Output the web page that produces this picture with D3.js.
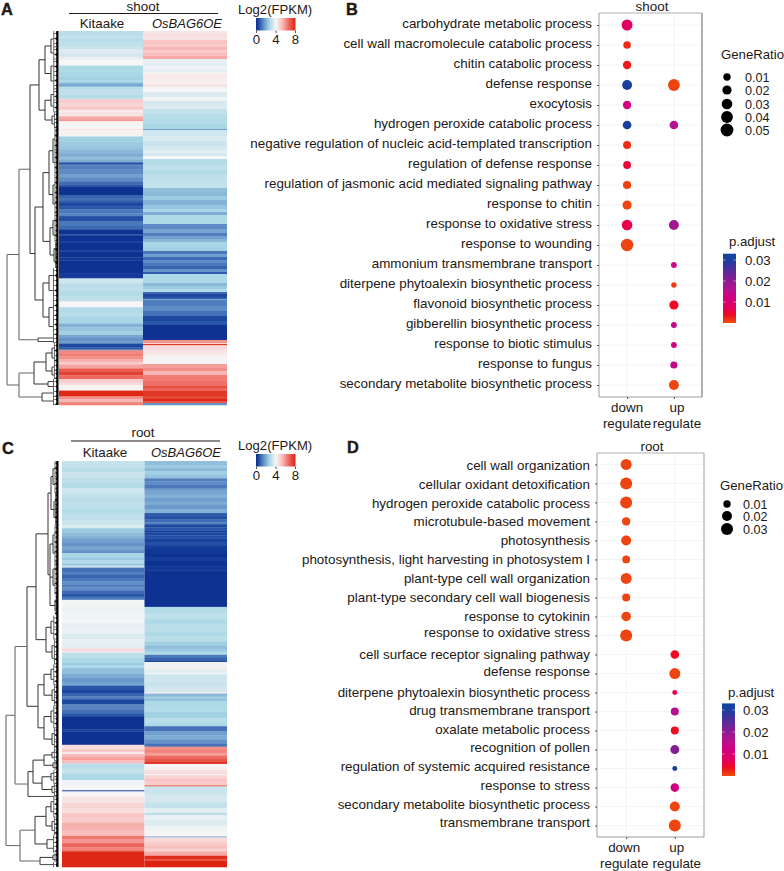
<!DOCTYPE html>
<html><head><meta charset="utf-8">
<script src="https://cdn.jsdelivr.net/npm/d3@7"></script>
<style>html,body{margin:0;padding:0;background:#fff}svg{display:block}text{font-family:"Liberation Sans",Arial,sans-serif;fill:#231815}</style>
</head><body><svg id="c" width="784" height="871"></svg>
<script>
// ---------- heatmap values: [log2 FPKM, number of rows] ----------
const shootKitaake=[[3,5],[3.2,3],[2.9,3],[3.1,3],[3,2],[3.3,3],[3.6,4],[3.5,4],[3.8,3],[4,6],[2.8,6],[2.7,6],[2.6,3],[2.8,3],[2.1,2],[1.9,2],[3,4],[3.1,4],[2.9,4],[3.1,1],[5,4],[4.8,4],[5.2,3],[4.3,3],[4.6,2],[4.4,2],[5.6,3],[5.9,2],[4.1,4],[4,4],[4.5,1],[4.1,7],[2.6,5],[2.5,5],[2.4,4],[2.2,4],[2,3],[2.3,3],[2,3],[0.6,2],[0.9,1],[1.3,4],[1.5,5],[1.8,4],[1.5,4],[1,3],[0.7,2],[0.1,9],[0.9,3],[1.1,3],[0.8,2],[0.5,4],[0.7,3],[1.2,4],[1.4,3],[0.6,5],[1.2,5],[1,4],[0.1,5],[0.5,1],[0.1,6],[0.4,2],[0.1,8],[0.3,1],[0.1,6],[0.2,3],[0.1,14],[0.25,5],[3.4,5],[3,4],[3.1,4],[2.9,5],[3.1,6],[4,6],[2.9,5],[3,5],[2.7,7],[2.1,4],[2.4,4],[2.6,4],[1.9,3],[1.6,3],[1.8,3],[0.5,4],[0.8,2],[1.3,1],[6.1,3],[6.3,3],[6,3],[5.5,3],[5.1,3],[5.7,4],[6.9,3],[7.4,4],[6.6,4],[5,3],[4.7,3],[4.1,6],[7.9,6],[6,3],[5.4,3],[6.2,3]];
const shootOE=[[4.4,3],[4.6,3],[4.5,3],[5.2,4],[5.1,3],[5.4,3],[5,3],[5.3,3],[5.6,3],[3.8,4],[3.7,3],[3.9,3],[3.8,3],[4.1,2],[4.3,5],[4.2,5],[4.4,3],[3.9,2],[4,3],[3.6,5],[3.9,4],[3.5,4],[3.6,4],[3.2,5],[3,5],[2.9,5],[2.7,5],[1.8,1],[3.4,6],[3.6,5],[3.3,5],[3.5,4],[3.7,3],[3.5,3],[4,3],[2.9,6],[3.1,5],[2.9,5],[3.1,6],[3.2,7],[2.3,4],[2.2,4],[2.5,4],[2.1,5],[2.4,4],[2.7,3],[2,3],[2.8,9],[1.5,5],[1.9,4],[1.3,3],[1.8,3],[2.2,3],[2.7,5],[2.6,4],[1.2,3],[1.8,3],[1,3],[1.5,3],[1.2,3],[0.9,3],[1.6,3],[0.8,2],[2.8,9],[2.2,3],[2.5,3],[2.9,3],[1,2],[0.5,3],[0.8,2],[2,1],[1.3,6],[1.5,5],[1.1,5],[0.5,5],[0.7,4],[0.1,15],[6,3],[4.8,1],[7.6,1],[5.2,1],[4.7,4],[4.4,4],[4.2,3],[4.05,7],[5.8,4],[6,3],[5.4,4],[6.3,6],[6.5,5],[7.1,2],[6.7,3],[7.6,5],[7.3,3],[7.9,2],[7,2],[1.6,2]];
const rootKitaake=[[3.2,6],[3,5],[3.3,5],[3.1,5],[2.9,5],[3.4,5],[3.2,4],[3,5],[3.1,6],[2.9,5],[3.1,6],[3.3,5],[3.6,3],[2.5,4],[2.3,3],[2.1,3],[1.8,4],[1.6,3],[1.9,4],[1.6,3],[2.7,4],[2.5,3],[2.9,3],[2.4,2],[3.3,2],[1.1,4],[1.3,3],[0.9,3],[1.2,3],[1.5,3],[1.3,3],[1.5,3],[1,3],[0.7,3],[1.2,3],[3.95,7],[3.85,6],[3.9,6],[4,3],[3.8,6],[3.85,5],[3.6,5],[3.8,5],[3.7,4],[4.7,3],[3.8,1],[3.1,5],[2.8,5],[2.5,2],[2.8,3],[2.3,5],[2,4],[1.7,5],[1.9,3],[0.7,4],[0.5,3],[0.9,3],[1.3,3],[0.5,5],[1.4,5],[1.1,4],[0.7,3],[0.1,12],[0.3,2],[0.1,13],[4.6,4],[5.1,3],[4.3,2],[5.4,3],[5.8,3],[5.3,3],[3,5],[3.2,5],[2.8,6],[3.9,5],[4,5],[0.1,1],[4.05,5],[4.4,6],[4.8,5],[4.6,5],[5.2,5],[5,4],[5.5,7],[5.3,6],[6.4,3],[5.9,4],[6.7,4],[6.2,3],[7,1],[7.9,15]];
const rootOE=[[2.3,4],[2.5,3],[2.2,3],[2.6,3],[2.4,4],[1.3,3],[1.5,3],[1.2,4],[1.7,2],[1.9,4],[2.1,3],[1.8,4],[2,3],[1.7,4],[2.1,4],[0.8,3],[0.6,3],[1,3],[1.3,2],[0.5,3],[0.7,3],[0.3,2],[0.5,3],[0.6,3],[0.4,4],[0.6,3],[0.3,4],[0.2,4],[0.1,3],[0.3,4],[0.1,5],[0.2,4],[0.1,36],[2.9,6],[3.1,6],[2.8,5],[3,7],[2.8,5],[3,5],[2.6,4],[2.3,3],[2.5,3],[2.8,3],[1.2,3],[0.9,3],[0.4,1],[3.9,5],[4.2,2],[3.7,4],[4,1],[3.4,7],[3.3,6],[3.5,5],[4.2,1],[2.2,3],[2.6,2],[2.3,2],[2.8,6],[2.9,5],[2.6,6],[3,4],[2.8,4],[1.1,5],[1.8,4],[2,4],[1.6,4],[1.1,3],[6,3],[6.2,3],[5.8,3],[6.6,3],[7,3],[7.6,2],[4,3],[4.2,3],[4.6,4],[4.2,1],[4.8,3],[5.2,4],[5,3],[7,1],[3.3,8],[3.5,8],[3.2,5],[3.7,5],[3,2],[3.8,5],[3.6,6],[3.9,5],[4,5],[2,1],[4.7,4],[5,4],[5.3,3],[4.9,3],[5.6,4],[7.8,3],[7,2],[8,6]];

// ---------- dendrograms: [merge height, ...children]; a number is a block of rows ----------
const shootTree=[51,[39,[28,[19,[13,[7,16,12],[7,14,16]],[13,[7,11,12],[6,8,8]]],[23,[15,[9,[5,22,25],[5,20,18]],[8,[5,15,14],[4,13,13]]],[15,[9,15,15],[9,19,19]]]],[20,4,3]],[39,[24,[12,[6,10,10],[6,8,8]],[10,5,5]],[16,8,8]]];
const rootTree=[52,[43,[31,[22,[10,[7,[5,16,17],[4,18,16]],[8,[5,20,18],[5,15,19],[3,12,10]]],[12,[7,12,13],[6,13,13]]],[20,[14,[7,10,11],[6,11,11]],[14,[7,11,12],[6,12,11]]]],[30,[25,[14,[6,5,6],[5,5,5]],[16,[7,7,7],[6,6,7]]],1]],[38,[23,[12,[7,10,11],[6,9,10]],[11,9,9]],[18,[5,5,5],5]]];

// ---------- dot plots ----------
const shootTerms=["carbohydrate metabolic process","cell wall macromolecule catabolic process","chitin catabolic process","defense response","exocytosis","hydrogen peroxide catabolic process","negative regulation of nucleic acid-templated transcription","regulation of defense response","regulation of jasmonic acid mediated signaling pathway","response to chitin","response to oxidative stress","response to wounding","ammonium transmembrane transport","diterpene phytoalexin biosynthetic process","flavonoid biosynthetic process","gibberellin biosynthetic process","response to biotic stimulus","response to fungus","secondary metabolite biosynthetic process"];
const groups=["down","up"];
const shootDown=[[0,.033,.008],[1,.011,.002],[2,.015,.003],[3,.025,.03],[4,.015,.012],[5,.017,.03],[6,.013,.002],[7,.012,.005],[8,.014,.0008],[9,.02,.0005],[10,.03,.006],[11,.047,.0005]];
const shootUp=[[3,.04,.0005],[5,.017,.016],[10,.025,.018],[12,.004,.014],[13,.003,.001],[14,.02,.004],[15,.004,.014],[16,.004,.013],[17,.009,.014],[18,.025,.0005]];
const rootTerms=["cell wall organization","cellular oxidant detoxification","hydrogen peroxide catabolic process","microtubule-based movement","photosynthesis","photosynthesis, light harvesting in photosystem I","plant-type cell wall  organization","plant-type secondary cell wall biogenesis","response to cytokinin","response to oxidative stress","cell surface receptor signaling pathway","defense response","diterpene phytoalexin biosynthetic process","drug transmembrane transport","oxalate metabolic process","recognition of pollen","regulation of systemic acquired resistance","response to stress","secondary metabolite biosynthetic process","transmembrane transport"];
const rootDown=[[0,.0247,.0005],[1,.03,.0005],[2,.03,.0005],[3,.0127,.0005],[4,.02,.0005],[5,.0113,.0005],[6,.0247,.0005],[7,.0122,.0005],[8,.018,.0005],[9,.03,.0005]];
const rootUp=[[10,.0142,.004],[11,.0247,.0005],[12,.0038,.006],[13,.0122,.016],[14,.0122,.004],[15,.0157,.021],[16,.0038,.03],[17,.0142,.012],[18,.02,.0005],[19,.03,.0005]];
const shootRatioTicks=[.01,.02,.03,.04,.05], rootRatioTicks=[.01,.02,.03], pTicks=[.01,.02,.03], fpkmTicks=[0,4,8];
const rootLabelNudge=[1.3,.7,1,.3,0,0,0,0,0,-3.3,-.5,-1.7,0,-.7,-1,-1.7,-1.7,-2,-2.3,-2.7];

// ---------- colours ----------
const heatColor=d3.scaleLinear().domain([0,.5,1.5,2.7,3.5,4,5.2,6.5,8]).range(["#0a2d8e","#1c48a0","#5f8cc6","#a8d7e6","#d5e8ef","#f6f6f6","#f9c4c4","#ee6f66","#dc2310"]).clamp(true);
const pColor=d3.scaleLinear().domain([0,.0012,.004,.007,.012,.016,.021,.03,.033]).range(["#ee4b0f","#ef3a14","#ee0a22","#e4005c","#d1007f","#b5128f","#851c93","#1b3f9f","#15439f"]).clamp(true);

const svg=d3.select("#c");
const ink="#231815", FS=13.4;
const txt=(x,y,s,o={})=>svg.append("text").attr("x",x).attr("y",y).attr("text-anchor",o.a||"start").attr("font-size",o.fs||FS).attr("font-style",o.it?"italic":null).attr("font-weight",o.b?"bold":null).text(s);

// ---------- heatmap panel ----------
function heat(cfg){
  const g=svg.append("g");
  const col=d3.scaleBand().domain(["Kitaake","OsBAG6OE"]).range(cfg.x);
  [[cfg.a,"Kitaake"],[cfg.b,"OsBAG6OE"]].forEach(([runs,name])=>{
    const y=d3.scaleLinear().domain([0,d3.sum(runs,d=>d[1])]).range(cfg.y);
    let c=0; const rows=runs.map(d=>{const r={v:d[0],s:c,e:c+d[1]};c+=d[1];return r;});
    g.selectAll(null).data(rows).join("rect").attr("x",col(name)).attr("width",col.bandwidth()).attr("y",d=>y(d.s)).attr("height",d=>y(d.e)-y(d.s)+.3).attr("fill",d=>heatColor(d.v));
  });
  // dendrogram
  const total=(n)=>typeof n==="number"?n:d3.sum(n.slice(1),total);
  const yT=d3.scaleLinear().domain([0,total(cfg.tree)]).range(cfg.y);
  const xT=d3.scaleLinear().domain([0,cfg.hMax]).range([cfg.x0,cfg.x0-cfg.hMax]);
  const t=svg.append("g").attr("fill","none");
  const seg=(x1,y1,x2,y2,col,w)=>t.append("line").attr("x1",x1).attr("y1",y1).attr("x2",x2).attr("y2",y2).attr("stroke",col).attr("stroke-width",w);
  function walk(n,start,parentH){
    if(typeof n==="number"){
      const top=yT(start),bot=yT(start+n),c=(top+bot)/2;
      const tipH=Math.min(parentH*.6,4.5);
      seg(xT(parentH),c,xT(tipH),c,"#333",.9);
      seg(xT(tipH),top,xT(tipH),bot,"#555",.9);
      // saw-tooth of small clades running into the heat map
      d3.range(start,start+n,5).forEach((r,i)=>{
        const mid=yT(Math.min(r+2.5,start+n)), a=yT(r), b=yT(Math.min(r+5,start+n));
        t.append("path").attr("d",`M${cfg.x0},${a}L${xT(2.6+(i%2))},${mid}L${cfg.x0},${b}Z`).attr("fill","#111");
        seg(xT(tipH),mid,xT(2),mid,"#444",.6);
      });
      return c;
    }
    const h=n[0]; let s=start; const cs=[];
    n.slice(1).forEach(ch=>{cs.push(walk(ch,s,h));s+=total(ch);});
    const c=d3.mean([cs[0],cs[cs.length-1]]);
    const shade=h>35?"#808080":"#333";
    seg(xT(h),cs[0],xT(h),cs[cs.length-1],shade,h>35?1.3:1);
    if(parentH!=null) seg(xT(parentH),c,xT(h),c,parentH>35?"#666":"#333",1);
    return c;
  }
  walk(cfg.tree,0,null);
  seg(cfg.x0-.6,cfg.y[0],cfg.x0-.6,cfg.y[1],"#000",2.2);
  // header
  txt(cfg.hx,cfg.ty,cfg.title,{a:"middle"});
  svg.append("line").attr("x1",cfg.line[0]).attr("x2",cfg.line[1]).attr("y1",cfg.ly).attr("y2",cfg.ly).attr("stroke","#231815").attr("stroke-width",1.2);
  txt(cfg.kx,cfg.sy,"Kitaake",{a:"middle"});
  txt(cfg.ox,cfg.sy,"OsBAG6OE",{a:"middle",it:true,fs:13});
  // legend
  txt(238,cfg.lgY-4.5,"Log2(FPKM)",{fs:13.1});
  const id="hg"+cfg.title;
  const gr=svg.append("defs").append("linearGradient").attr("id",id);
  d3.range(0,8.01,.5).forEach(v=>gr.append("stop").attr("offset",v/8).attr("stop-color",heatColor(v)));
  const lx=d3.scaleLinear().domain([0,8]).range([256,295]);
  svg.append("rect").attr("x",256).attr("y",cfg.lgY).attr("width",39.5).attr("height",12.5).attr("fill",`url(#${id})`);
  const ax=svg.append("g").attr("transform",`translate(0,${cfg.lgY+12.5})`).call(d3.axisBottom(lx).tickValues(fpkmTicks).tickFormat(d3.format("d")).tickSize(2.5).tickPadding(1.5));
  ax.select(".domain").remove(); ax.selectAll("line").attr("stroke","#555");
  ax.selectAll("text").attr("font-size",13.2).attr("font-family",null).attr("fill",ink);
}
heat({a:shootKitaake,b:shootOE,tree:shootTree,x:[59,227],y:[31,405],x0:58,hMax:51,title:"shoot",hx:143,ty:11,line:[69,218],ly:13.5,kx:102,ox:187,sy:27.5,lgY:18});
heat({a:rootKitaake,b:rootOE,tree:rootTree,x:[62,227],y:[461,867],x0:58,hMax:52,title:"root",hx:143,ty:437,line:[71,220],ly:441,kx:105,ox:186,sy:457,lgY:454});

// ---------- dot plot panel ----------
function dots(cfg){
  const x=d3.scalePoint().domain(groups).range([cfg.f[0],cfg.f[1]]).padding(.6);
  const y=d3.scalePoint().domain(cfg.terms).range([cfg.f[2],cfg.f[3]]).padding(.6);
  const r=d3.scaleSqrt().domain(cfg.rDom).range(cfg.rRange);
  const g=svg.append("g");
  groups.forEach(k=>g.append("line").attr("x1",x(k)).attr("x2",x(k)).attr("y1",cfg.f[2]).attr("y2",cfg.f[3]).attr("stroke","#f1f1f1").attr("stroke-width",.8));
  cfg.terms.forEach(k=>g.append("line").attr("x1",cfg.f[0]).attr("x2",cfg.f[1]).attr("y1",y(k)).attr("y2",y(k)).attr("stroke","#f1f1f1").attr("stroke-width",.8));
  const frame=[[cfg.f[0],cfg.f[2],cfg.f[1],cfg.f[2],.8],[cfg.f[0],cfg.f[2],cfg.f[0],cfg.f[3],1],[cfg.f[0],cfg.f[3],cfg.f[1],cfg.f[3],1],[cfg.f[1],cfg.f[2],cfg.f[1],cfg.f[3],cfg.rw]];
  g.selectAll(null).data(frame).join("line").attr("x1",d=>d[0]).attr("y1",d=>d[1]).attr("x2",d=>d[2]).attr("y2",d=>d[3]).attr("stroke","#9d9d9d").attr("stroke-width",d=>d[4]);
  const yAxis=svg.append("g").attr("transform",`translate(${cfg.f[0]},0)`).call(d3.axisLeft(y).tickSize(2).tickFormat(""));
  yAxis.select(".domain").remove(); yAxis.selectAll("line").attr("stroke","#555");
  const xAxis=svg.append("g").attr("transform",`translate(0,${cfg.f[3]})`).call(d3.axisBottom(x).tickSize(2).tickFormat(""));
  xAxis.select(".domain").remove(); xAxis.selectAll("line").attr("stroke","#555");
  cfg.terms.forEach((k,i)=>txt(cfg.f[0]-7,y(k)+cfg.lab+(cfg.nudge?cfg.nudge[i]:0),k,{a:"end"}));
  [[cfg.down,"down"],[cfg.up,"up"]].forEach(([d,k])=>{
    g.selectAll(null).data(d).join("circle").attr("cx",x(k)).attr("cy",e=>y(cfg.terms[e[0]])).attr("r",e=>r(e[1])).attr("fill",e=>pColor(e[2]));
  });
  txt(cfg.tx,cfg.f[2]-1.8,cfg.title,{a:"middle"});
  const dx=x("down"),ux=x("up")+cfg.ud;
  txt(dx+cfg.dd,cfg.xl[0],"down",{a:"middle"}); txt(dx+cfg.dd,cfg.xl[1],"regulate",{a:"middle"});
  txt(ux,cfg.xl[0],"up",{a:"middle"}); txt(ux,cfg.xl[1],"regulate",{a:"middle"});
  // size legend
  txt(cfg.grX,cfg.grY,"GeneRatio",{fs:13.2});
  cfg.sizes.forEach((s,i)=>{
    svg.append("circle").attr("cx",727).attr("cy",cfg.sizeY[i]).attr("r",r(s)).attr("fill","#000");
    txt(cfg.stx,cfg.sizeY[i]+4.5,d3.format(".2f")(s),{fs:12.6});
  });
  // colour legend
  const ps=d3.scaleLinear().domain([0,.03]).range(cfg.cb0);
  const gid="pg"+cfg.title;
  const gr=svg.append("defs").append("linearGradient").attr("id",gid).attr("x1",0).attr("y1",1).attr("x2",0).attr("y2",0);
  pColor.domain().forEach(v=>gr.append("stop").attr("offset",v/.033).attr("stop-color",pColor(v)));
  const bt=ps(.033),bb=ps(0);
  svg.append("rect").attr("x",cfg.cbx).attr("y",bt).attr("width",13).attr("height",bb-bt).attr("fill",`url(#${gid})`);
  pTicks.forEach(v=>{
    svg.append("line").attr("x1",cfg.cbx).attr("x2",cfg.cbx+2.5).attr("y1",ps(v)).attr("y2",ps(v)).attr("stroke","#fff").attr("stroke-width",.5);
    svg.append("line").attr("x1",cfg.cbx+10.5).attr("x2",cfg.cbx+13).attr("y1",ps(v)).attr("y2",ps(v)).attr("stroke","#fff").attr("stroke-width",.5);
    txt(cfg.stx,ps(v)+4.7,d3.format(".2f")(v),{fs:13.2});
  });
  txt(cfg.pX,cfg.pY,"p.adjust",{fs:13.2});
}
dots({terms:shootTerms,down:shootDown,up:shootUp,f:[599,702,13,397],lab:3,rDom:[.01,.05],rRange:[3.7,6.4],rw:1.6,title:"shoot",tx:652,ud:3,dd:0,xl:[411.5,427.5],grX:721,grY:59,sizes:shootRatioTicks,sizeY:[77,90,104,117,130],stx:745,cb0:[323,260],cbx:723,pX:729,pY:246});
dots({terms:rootTerms,down:rootDown,up:rootUp,f:[597,704,453,837],lab:4.5,rDom:[.01,.03],rRange:[3.7,6],rw:1,title:"root",tx:652,ud:2,dd:-2,nudge:rootLabelNudge,xl:[851.5,867.5],grX:720,grY:490,sizes:rootRatioTicks,sizeY:[504,516,529],stx:743,cb0:[776,710],cbx:722,pX:728,pY:697});

// ---------- panel letters ----------
[["A",1,15],["B",346,15],["C",2,454],["D",347,453]].forEach(d=>txt(d[1],d[2],d[0],{b:true,fs:16.4}).attr("stroke",ink).attr("stroke-width",.4));
</script></body></html>
